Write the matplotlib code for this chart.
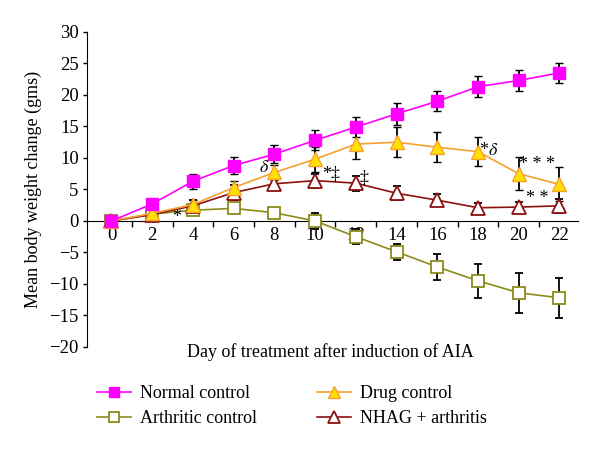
import numpy as np
import matplotlib
matplotlib.use("Agg")
import matplotlib.pyplot as plt
from matplotlib.lines import Line2D

plt.rcParams["font.family"] = ["Liberation Serif", "DejaVu Serif"]
plt.rcParams["mathtext.fontset"] = "stix"

days = [0, 2, 4, 6, 8, 10, 12, 14, 16, 18, 20, 22]

normal = [0, 2.7, 6.3, 8.8, 10.6, 12.8, 14.9, 17.0, 19.0, 21.3, 22.3, 23.5]
normal_err = [0, 0.3, 1.2, 1.3, 1.4, 1.6, 1.6, 1.8, 1.6, 1.7, 1.7, 1.6]

drug = [0, 1.2, 2.6, 5.3, 7.7, 9.8, 12.2, 12.5, 11.7, 11.0, 7.5, 5.8]
drug_err = [0, 0.3, 0.8, 1.0, 1.2, 2.0, 2.4, 2.4, 2.4, 2.3, 2.6, 2.7]

arthritic = [0, 1.1, 1.7, 2.0, 1.3, 0.0, -2.5, -4.9, -7.3, -9.5, -11.4, -12.2]
arthritic_err = [0, 0.2, 0.3, 0.4, 0.5, 1.2, 1.2, 1.3, 2.1, 2.7, 3.2, 3.2]

nhag = [0, 1.0, 2.4, 4.5, 5.9, 6.4, 6.0, 4.4, 3.3, 2.1, 2.2, 2.4]
nhag_err = [0, 0.3, 1.0, 1.2, 1.0, 1.1, 1.2, 1.1, 1.0, 0.8, 0.8, 1.1]

# significance marks: (day, value, text)
marks = [
    (3.2, 0.6, "*"),
    (7.5, 8.5, r"$\delta$"),
    (10.8, 7.4, "*‡"),
    (12.4, 6.8, "‡"),
    (18.5, 11.2, r"*$\delta$"),
    (20.9, 9.0, "* * *"),
    (20.9, 3.5, "* *"),
]

fig = plt.figure(figsize=(6, 4.5), dpi=100)
ax = fig.add_axes([0.145, 0.229, 0.818, 0.70])

series = [
    (arthritic, arthritic_err, dict(color="#8b8b1a", marker="s", mfc="white", mec="#8b8b1a", ms=8.5, mew=1.3)),
    (nhag, nhag_err, dict(color="#8b1010", marker="^", mfc="white", mec="#8b1010", ms=10, mew=1.3)),
    (drug, drug_err, dict(color="#f7a030", marker="^", mfc="#ffe000", mec="#f7a030", ms=10, mew=1.0)),
    (normal, normal_err, dict(color="#ff00ff", marker="s", mfc="#ff00ff", mec="#ff00ff", ms=8.5, mew=1.0)),
]
for vals, errs, st in series:
    ax.errorbar(days, vals, yerr=errs, ecolor="black", elinewidth=1.3,
                capsize=3, capthick=1.3, lw=1.2, zorder=3, **st)

for x, y, t in marks:
    ax.text(x, y, t, fontsize=13, ha="center", va="center", zorder=5)

ax.set_xlim(-1.2, 22.9)
ax.set_ylim(-20, 30)
ax.set_yticks(np.arange(-20, 31, 5))
ax.set_yticklabels([str(v).replace("-", "\u2212") for v in range(-20, 31, 5)])

ax.spines["top"].set_visible(False)
ax.spines["right"].set_visible(False)
ax.spines["bottom"].set_position(("data", 0))
ax.spines["left"].set_position(("data", -1.2))

ax.set_xticks(np.arange(1, 23, 2))
ax.set_xticklabels([])
ax.tick_params(axis="x", direction="out", length=4, width=1)
ax.tick_params(axis="y", direction="out", length=3, width=1, labelsize=13.5, pad=3)

for d in days:
    ax.text(d, -1.0, str(d), fontsize=13.5, ha="center", va="top", zorder=1)

fig.text(0.55, 0.218, "Day of treatment after induction of AIA", fontsize=13,
         ha="center", va="center")
fig.text(0.055, 0.578, "Mean body weight change (gms)", fontsize=13,
         ha="center", va="center", rotation=90)

h_normal = Line2D([], [], color="#ff00ff", marker="s", mfc="#ff00ff", mec="#ff00ff", ms=7, lw=1.2)
h_drug = Line2D([], [], color="#f7a030", marker="^", mfc="#ffe000", mec="#f7a030", ms=8, lw=1.2)
h_arth = Line2D([], [], color="#8b8b1a", marker="s", mfc="white", mec="#8b8b1a", ms=7, lw=1.2, mew=1.3)
h_nhag = Line2D([], [], color="#8b1010", marker="^", mfc="white", mec="#8b1010", ms=8, lw=1.2, mew=1.3)
handles = [h_normal, h_arth, h_drug, h_nhag]
labels = ["Normal control", "Arthritic control", "Drug control", "NHAG + arthritis"]
fig.legend(handles, labels, loc="center", bbox_to_anchor=(0.487, 0.097), ncol=2,
           frameon=False, fontsize=13, handlelength=1.9, columnspacing=3.3,
           labelspacing=0.45, handletextpad=0.5)

fig.savefig("out.png", dpi=100)
